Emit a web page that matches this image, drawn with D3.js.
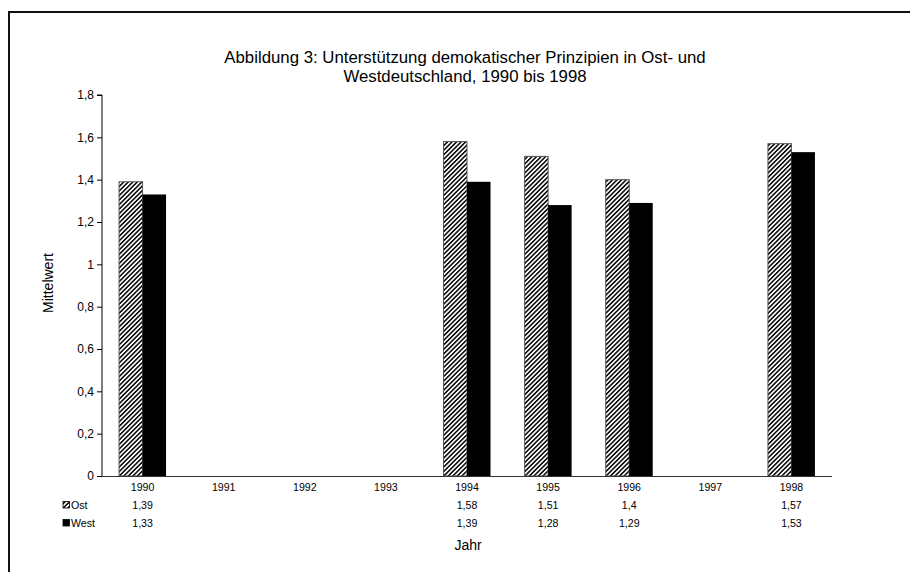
<!DOCTYPE html>
<html>
<head>
<meta charset="utf-8">
<script src="https://cdn.jsdelivr.net/npm/d3@7"></script>
<style>
  html, body { margin: 0; padding: 0; background: #fff; }
  svg { display: block; font-family: "Liberation Sans", Arial, sans-serif; }
</style>
</head>
<body>
<svg id="chart" width="910" height="572"></svg>
<script>
// Jahre und Mittelwerte (null = keine Erhebung)
const years = ["1990", "1991", "1992", "1993", "1994", "1995", "1996", "1997", "1998"];
const ost   = [1.39, null, null, null, 1.58, 1.51, 1.4, null, 1.57];
const west  = [1.33, null, null, null, 1.39, 1.28, 1.29, null, 1.53];
const seriesNames = ["Ost", "West"];
const yTicks = [0, 0.2, 0.4, 0.6, 0.8, 1, 1.2, 1.4, 1.6, 1.8];
const titleLines = [
  "Abbildung 3: Unterstützung demokatischer Prinzipien in Ost- und",
  "Westdeutschland, 1990 bis 1998"
];

const fmt = v => String(v).replace(".", ",");

const svg = d3.select("#chart");

// Muster für die schraffierten Ost-Balken
const defs = svg.append("defs");
const hatch = defs.append("pattern")
  .attr("id", "hatch")
  .attr("patternUnits", "userSpaceOnUse")
  .attr("width", 3.2)
  .attr("height", 10)
  .attr("patternTransform", "rotate(45)");
hatch.append("rect").attr("width", 3.2).attr("height", 10).attr("fill", "#fff");
hatch.append("rect").attr("width", 1.5).attr("height", 10).attr("fill", "#000");

// Rahmen des Diagrammbereichs
svg.append("rect")
  .attr("x", 9).attr("y", 12)
  .attr("width", 940).attr("height", 620)
  .attr("fill", "none")
  .attr("stroke", "#111")
  .attr("stroke-width", 2);

// Titel
svg.append("g").selectAll("text")
  .data(titleLines)
  .join("text")
  .attr("x", 465)
  .attr("y", (d, i) => 63 + i * 18.5)
  .attr("text-anchor", "middle")
  .attr("font-size", 16.8)
  .attr("fill", "#000")
  .text(d => d);

// Skalen
const plot = { left: 102, right: 832, top: 95, bottom: 476 };
const x = d3.scaleBand().domain(years).range([plot.left, plot.right]).paddingInner(0).paddingOuter(0);
const y = d3.scaleLinear().domain([0, 1.8]).range([plot.bottom, plot.top]);
const groupW = 47;
const xs = d3.scaleBand().domain(seriesNames).range([0, groupW]).padding(0);

// Y-Achse
const yAxis = svg.append("g")
  .attr("transform", `translate(${plot.left},0)`)
  .call(d3.axisLeft(y).tickValues(yTicks).tickFormat(fmt).tickSize(5).tickPadding(3));
yAxis.select(".domain").attr("stroke", "#000").attr("d", `M-5,${y(1.8)}H0V${y(0)}`);
yAxis.selectAll(".tick line").attr("stroke", "#000");
yAxis.selectAll(".tick text")
  .attr("font-size", 12)
  .attr("font-family", "Liberation Sans, Arial, sans-serif")
  .attr("fill", "#000");

// Balken
const data = years.map((yr, i) => ({ year: yr, values: [ost[i], west[i]] }));
const groups = svg.append("g").selectAll("g")
  .data(data)
  .join("g")
  .attr("transform", d => `translate(${x(d.year) + (x.bandwidth() - groupW) / 2},0)`);

groups.selectAll("rect")
  .data(d => d.values.map((v, k) => ({ key: seriesNames[k], v })).filter(e => e.v != null))
  .join("rect")
  .attr("x", e => xs(e.key))
  .attr("y", e => y(e.v))
  .attr("width", xs.bandwidth())
  .attr("height", e => y(0) - y(e.v))
  .attr("fill", e => e.key === "Ost" ? "url(#hatch)" : "#000")
  .attr("stroke", e => e.key === "Ost" ? "#555" : "none")
  .attr("stroke-width", 1);

// X-Achse
svg.append("line")
  .attr("x1", plot.left).attr("x2", plot.right)
  .attr("y1", plot.bottom + 0.5).attr("y2", plot.bottom + 0.5)
  .attr("stroke", "#333").attr("stroke-width", 1.2);

// Datentabelle unter der Achse
const table = svg.append("g").attr("font-size", 10.6).attr("fill", "#000");
table.selectAll("text.yr")
  .data(years)
  .join("text")
  .attr("class", "yr")
  .attr("x", d => x(d) + x.bandwidth() / 2)
  .attr("y", 491)
  .attr("text-anchor", "middle")
  .text(d => d);

[ost, west].forEach((arr, k) => {
  table.selectAll(`text.v${k}`)
    .data(years.map((yr, i) => ({ yr, v: arr[i] })).filter(d => d.v != null))
    .join("text")
    .attr("class", `v${k}`)
    .attr("x", d => x(d.yr) + x.bandwidth() / 2)
    .attr("y", 509 + k * 18)
    .attr("text-anchor", "middle")
    .text(d => fmt(d.v));
});

// Legende in der Tabelle
const legend = svg.append("g");
seriesNames.forEach((name, k) => {
  legend.append("rect")
    .attr("x", 63).attr("y", 501.5 + k * 18)
    .attr("width", 6.5).attr("height", 6.5)
    .attr("fill", name === "Ost" ? "url(#hatch)" : "#000")
    .attr("stroke", "#000").attr("stroke-width", 0.8);
  legend.append("text")
    .attr("x", 71).attr("y", 509 + k * 18)
    .attr("font-size", 10.6)
    .text(name);
});

// Achsentitel
svg.append("text")
  .attr("x", 468).attr("y", 550)
  .attr("text-anchor", "middle")
  .attr("font-size", 14)
  .text("Jahr");

svg.append("text")
  .attr("transform", "translate(53,283) rotate(-90)")
  .attr("text-anchor", "middle")
  .attr("font-size", 14)
  .text("Mittelwert");
</script>
</body>
</html>
